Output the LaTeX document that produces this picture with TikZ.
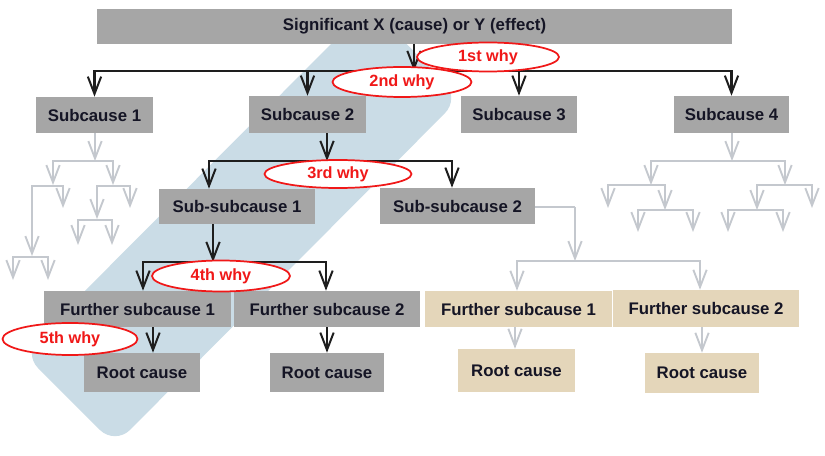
\documentclass[tikz,border=0pt]{standalone}
\usepackage{fontspec}
\setmainfont{Liberation Sans}
\usetikzlibrary{arrows.meta,shapes.geometric,calc}
\definecolor{boxgray}{HTML}{A6A6A6}
\definecolor{boxtan}{HTML}{E4D6BA}
\definecolor{bandblue}{HTML}{CADCE6}
\definecolor{dark}{HTML}{1E1E1E}
\definecolor{lite}{HTML}{C4C8CE}
\definecolor{whyred}{HTML}{F01818}
\definecolor{txt}{HTML}{151525}
\begin{document}
\begin{tikzpicture}[x=0.75pt,y=-0.75pt,
 boxsize/.style 2 args={minimum width=#1*0.75pt, minimum height=#2*0.75pt},
 gbox/.style={fill=boxgray, inner sep=0pt, text=txt, font=\fontsize{12.6}{14}\selectfont\bfseries},
 tbox/.style={gbox, fill=boxtan},
 why/.style={ellipse, draw=whyred, line width=1.3pt, fill=white, inner sep=0pt, text=whyred, font=\fontsize{12.2}{14}\selectfont\bfseries},
 dk/.style={draw=dark, line width=1.7pt},
 dkarr/.style={dk, -{Straight Barb[length=13pt,width=10pt,line width=1.5pt]}},
 lt/.style={draw=lite, line width=1.7pt},
 ltarr/.style={lt, -{Straight Barb[length=13pt,width=10pt,line width=1.4pt]}},
]
\useasboundingbox (0,0) rectangle (825,456);
\fill[white] (0,0) rectangle (825,456);

% diagonal band
\fill[bandblue, rounded corners=16pt] (369,6) -- (460,98) -- (115,445) -- (23,353) -- cycle;

% boxes
\node[gbox, boxsize={635}{35}] (top) at (414.5,26.5) {Significant X (cause) or Y (effect)};
\node[gbox, boxsize={117}{36}] (sc1) at (94.5,115) {Subcause 1};
\node[gbox, boxsize={117}{37}] (sc2) at (307.5,114.5) {Subcause 2};
\node[gbox, boxsize={116}{37}] (sc3) at (519,114.5) {Subcause 3};
\node[gbox, boxsize={115}{37}] (sc4) at (731.5,114.5) {Subcause 4};
\node[gbox, boxsize={156}{35}] (ss1) at (237,206.5) {Sub-subcause 1};
\node[gbox, boxsize={155}{36}] (ss2) at (457.5,206) {Sub-subcause 2};
\node[gbox, boxsize={187}{36}] (fs1) at (137.5,309) {Further subcause 1};
\node[gbox, boxsize={186}{36}] (fs2) at (327,309) {Further subcause 2};
\node[gbox, boxsize={116}{39}] (rc1) at (142,372.5) {Root cause};
\node[gbox, boxsize={114}{39}] (rc2) at (327,372.5) {Root cause};
\node[tbox, boxsize={187}{36}] (tfs1) at (518.5,309) {Further subcause 1};
\node[tbox, boxsize={186}{37}] (tfs2) at (706,308.5) {Further subcause 2};
\node[tbox, boxsize={117}{43}] (trc1) at (516.5,370.5) {Root cause};
\node[tbox, boxsize={114}{40}] (trc2) at (702,373) {Root cause};

% level 1 connectors
\coordinate (b1) at (414,71);
\draw[dkarr] (top.south -| b1) -- (b1);
\draw[dk, line cap=rect] (sc1.north |- b1) -- (sc4.north |- b1);
\foreach \n in {sc1,sc2,sc3,sc4}{\draw[dkarr] (\n.north |- b1) -- (\n.north);}

% level 2
\coordinate (b2) at (327,161);
\coordinate (ss1in) at (209,161);
\coordinate (ss2in) at (452,161);
\draw[dkarr] (sc2.south -| b2) -- (b2);
\draw[dk, line cap=rect] (ss1in) -- (ss2in);
\draw[dkarr] (ss1in) -- (ss1.north -| ss1in);
\draw[dkarr] (ss2in) -- (ss2.north -| ss2in);

% level 3
\coordinate (b3) at (213,262);
\coordinate (fs1in) at (143,262);
\coordinate (fs2in) at (326,262);
\draw[dkarr] (ss1.south -| b3) -- (b3);
\draw[dk, line cap=rect] (fs1in) -- (fs2in);
\draw[dkarr] (fs1in) -- (fs1.north -| fs1in);
\draw[dkarr] (fs2in) -- (fs2.north -| fs2in);

% level 4
\coordinate (r1in) at (153,340);
\draw[dkarr] (fs1.south -| r1in) -- (rc1.north -| r1in);
\draw[dkarr] (fs2.south) -- (rc2.north);

% tan branch
\coordinate (tb0) at (575,207);
\coordinate (tb1) at (575,261);
\coordinate (t1in) at (517,261);
\coordinate (t2in) at (700,261);
\draw[lt] (ss2.east |- tb0) -- (tb0);
\draw[ltarr] (tb0) -- (tb1);
\draw[lt, line cap=rect] (t1in) -- (t2in);
\draw[ltarr] (t1in) -- (tfs1.north -| t1in);
\draw[ltarr] (t2in) -- (tfs2.north -| t2in);
\coordinate (tr1) at (515,340);
\draw[ltarr] (tfs1.south -| tr1) -- (trc1.north -| tr1);
\draw[ltarr] (tfs2.south -| trc2.north) -- (trc2.north);

% faded tree under Subcause 1
\coordinate (g1) at (95,161);
\draw[ltarr] (sc1.south -| g1) -- (g1);
\draw[lt, line cap=rect] (53,161) -- (113,161);
\draw[ltarr] (53,161) -- (53,185);
\draw[ltarr] (113,161) -- (113,185);
\draw[lt, line cap=rect] (32,186) -- (63,186);
\draw[ltarr] (63,186) -- (63,208);
\draw[ltarr] (32,186) -- (32,256);
\draw[lt, line cap=rect] (13,257) -- (48,257);
\draw[ltarr] (13,257) -- (13,280);
\draw[ltarr] (48,257) -- (48,280);
\draw[lt, line cap=rect] (97,186) -- (130,186);
\draw[ltarr] (97,186) -- (97,219);
\draw[ltarr] (130,186) -- (130,208);
\draw[lt, line cap=rect] (78,220) -- (112,220);
\draw[ltarr] (78,220) -- (78,245);
\draw[ltarr] (112,220) -- (112,245);

% faded tree under Subcause 4
\coordinate (g4) at (732,161);
\draw[ltarr] (sc4.south -| g4) -- (g4);
\draw[lt, line cap=rect] (651,161) -- (785,161);
\draw[ltarr] (651,161) -- (651,185);
\draw[ltarr] (785,161) -- (785,185);
\draw[lt, line cap=rect] (608,185) -- (665,185);
\draw[ltarr] (608,185) -- (608,208);
\draw[ltarr] (665,185) -- (665,210);
\draw[lt, line cap=rect] (638,210) -- (693,210);
\draw[ltarr] (638,210) -- (638,232);
\draw[ltarr] (693,210) -- (693,232);
\draw[lt, line cap=rect] (757,185) -- (812,185);
\draw[ltarr] (757,185) -- (757,210);
\draw[ltarr] (812,185) -- (812,208);
\draw[lt, line cap=rect] (728,210) -- (783,210);
\draw[ltarr] (728,210) -- (728,232);
\draw[ltarr] (783,210) -- (783,232);

% why labels
\node[why, boxsize={142}{29}] (w1) at (488,57) {1st why};
\node[why, boxsize={139}{30}] (w2) at (402,82) {2nd why};
\node[why, boxsize={147}{28}] (w3) at (338,174) {3rd why};
\node[why, boxsize={138}{31}] (w4) at (221,276) {4th why};
\node[why, boxsize={135}{32}] (w5) at (70,339) {5th why};
\end{tikzpicture}
\end{document}
